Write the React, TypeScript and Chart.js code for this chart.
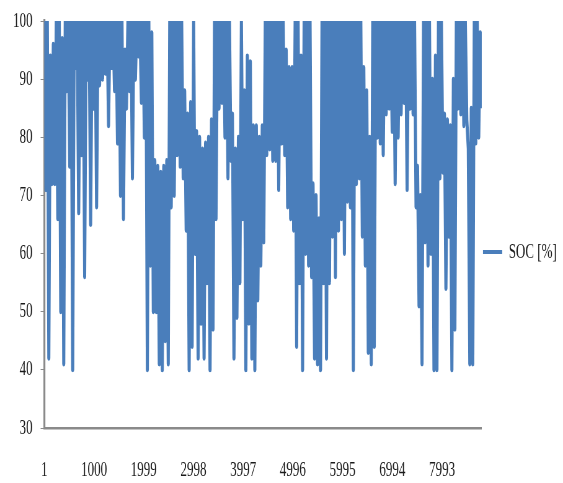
import React, { useEffect, useRef } from 'react';
import { Chart, registerables } from 'chart.js';

Chart.register(...registerables);

// ---- data ----
const seriesLabel = 'SOC [%]';
// Each column covers 60 hours: the series reaches socHigh then drops to socLow.
const hoursPerSample = 30;
const socHigh = [
  100, 100, 94, 96, 100, 100, 97, 100, 100, 100, 100, 100, 100, 100, 100, 100, 100, 100, 100, 100,
  100, 100, 100, 100, 100, 100, 100, 95, 100, 100, 100, 100, 100, 100, 100, 100, 98,
  76, 75, 74, 75, 76, 100, 100, 100, 100, 100, 88, 84, 86, 100, 81, 80, 78, 79, 80, 83,
  100, 100, 100, 100, 100, 100, 84, 78, 80, 100, 88, 94, 93, 82, 82, 80, 82,
  100, 100, 100, 100, 100, 100, 100, 95, 92, 92, 100, 100, 94, 100, 100, 100, 72, 70, 66,
  100, 100, 100, 100, 100, 100, 100, 100, 100, 100, 100, 100, 100, 100, 92, 88, 80, 100,
  100, 100, 100, 100, 100, 100, 100, 100, 100, 100, 100, 100, 100, 100, 75, 70, 100, 100, 100,
  90, 94, 100, 100, 84, 83, 82, 90, 100, 100, 100, 100, 78, 85, 100, 100, 98,
];
const socLow = [
  71, 42, 72, 72, 66, 50, 41, 88, 75, 40, 92, 67, 77, 56, 90, 65, 85, 68, 89, 90,
  91, 82, 92, 88, 79, 70, 66, 85, 88, 73, 90, 94, 86, 80, 40, 58, 50,
  50, 41, 40, 45, 41, 68, 70, 77, 75, 73, 64, 40, 44, 60, 42, 48, 42, 55, 40, 47,
  66, 85, 86, 80, 73, 76, 42, 49, 55, 66, 40, 48, 42, 40, 52, 58, 62,
  77, 78, 76, 76, 71, 79, 77, 68, 66, 64, 44, 55, 40, 60, 58, 56, 42, 41, 40,
  55, 42, 55, 63, 56, 64, 66, 60, 69, 68, 40, 72, 73, 63, 58, 43, 41, 44,
  80, 79, 77, 84, 85, 81, 72, 80, 84, 86, 71, 85, 84, 68, 51, 41, 62, 58, 60,
  40, 40, 73, 74, 54, 63, 40, 47, 85, 84, 82, 83, 41, 41, 79, 80, 85,
];
const xTickHours = [1, 1000, 1999, 2998, 3997, 4996, 5995, 6994, 7993];
const yTickValues = [30, 40, 50, 60, 70, 80, 90, 100];

// ---- styling ----
const W = 563;
const H = 483;
const SQUEEZE = 0.62; // reference is horizontally condensed
const CW = Math.round(W / SQUEEZE);
const BLUE = '#4A7EBB';
const AXIS = '#8a8a8a';
const TEXT = '#1a1a1a';
const FONT = { family: "'Liberation Serif', 'Times New Roman', serif", size: 21 };

function buildPoints() {
  const pts: { x: number; y: number }[] = [];
  for (let i = 0; i < socHigh.length; i++) {
    pts.push({ x: 1 + 2 * i * hoursPerSample, y: socHigh[i] });
    pts.push({ x: 1 + (2 * i + 1) * hoursPerSample, y: socLow[i] });
  }
  return pts;
}

export default function App() {
  const ref = useRef<HTMLCanvasElement | null>(null);

  useEffect(() => {
    if (!ref.current) return;
    const points = buildPoints();
    const lastHour = points[points.length - 1].x;
    const chart = new Chart(ref.current, {
      type: 'line',
      data: {
        datasets: [
          {
            label: seriesLabel,
            data: points,
            borderColor: BLUE,
            backgroundColor: BLUE,
            borderWidth: 5,
            pointRadius: 0,
            tension: 0,
            fill: false,
            borderJoinStyle: 'round',
          },
        ],
      },
      options: {
        animation: false,
        responsive: false,
        events: [],
        layout: { padding: { top: 21, left: 8, right: 0, bottom: 0 } },
        plugins: {
          tooltip: { enabled: false },
          legend: {
            position: 'right',
            align: 'center',
            labels: {
              boxWidth: 31,
              boxHeight: 4,
              padding: 2,
              color: TEXT,
              font: FONT,
              generateLabels: (c: any) =>
                Chart.defaults.plugins.legend.labels
                  .generateLabels(c)
                  .map((l: any) => ({ ...l, lineWidth: 0 })),
            },
          },
        },
        scales: {
          x: {
            type: 'linear',
            min: 1,
            max: lastHour,
            afterBuildTicks: (axis: any) => {
              axis.ticks = xTickHours.map((v) => ({ value: v }));
            },
            afterFit: (axis: any) => {
              axis.height = 55;
            },
            ticks: {
              autoSkip: false,
              maxRotation: 0,
              padding: 30,
              color: TEXT,
              font: FONT,
              callback: (v: any) => String(v),
            },
            grid: { display: false, drawTicks: false },
            border: { display: true, color: AXIS, width: 2.5 },
          },
          y: {
            min: 30,
            max: 100,
            afterBuildTicks: (axis: any) => {
              axis.ticks = yTickValues.map((v) => ({ value: v }));
            },
            afterFit: (axis: any) => {
              axis.paddingTop = 0;
              axis.paddingBottom = 0;
            },
            ticks: {
              padding: 13,
              color: TEXT,
              font: FONT,
              callback: (v: any) => String(v),
            },
            grid: { drawOnChartArea: false, drawTicks: true, tickLength: 6, color: AXIS },
            border: { display: true, color: AXIS, width: 3.2 },
          },
        },
      },
    } as any);
    return () => chart.destroy();
  }, []);

  return (
    <div style={{ position: 'absolute', left: 0, top: 0, width: W, height: H, background: '#fff' }}>
      <canvas
        ref={ref}
        width={CW}
        height={H}
        style={{ width: W + 'px', height: H + 'px', display: 'block' }}
      />
    </div>
  );
}
